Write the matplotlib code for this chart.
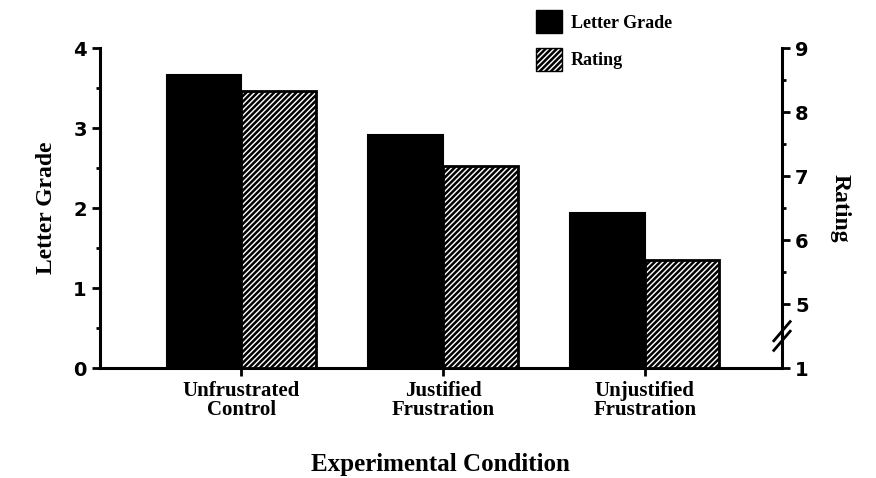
import matplotlib
matplotlib.use("Agg")
import matplotlib.pyplot as plt
import numpy as np
from matplotlib.patches import Patch

categories = ["Unfrustrated\nControl", "Justified\nFrustration", "Unjustified\nFrustration"]
letter_grade = [3.66, 2.91, 1.94]
rating = [8.33, 7.16, 5.69]
rating_axis_floor = 4  # the broken right axis starts here (labelled "1")
left_ticks = [0, 1, 2, 3, 4]
right_ticks = [4, 5, 6, 7, 8, 9]
right_tick_labels = ["1", "5", "6", "7", "8", "9"]

plt.rcParams['font.family'] = ['Liberation Serif', 'DejaVu Serif']
plt.rcParams['font.weight'] = 'bold'
plt.rcParams['hatch.linewidth'] = 1.8

fig = plt.figure(figsize=(8.76, 4.78), dpi=100)
ax = fig.add_axes([100/876, 1-368/478, 682/876, 320/478])
ax2 = ax.twinx()

x = np.arange(len(categories))
w = 0.37
ax.bar(x - w/2, letter_grade, width=w, color='black', edgecolor='black', linewidth=1.5, zorder=3)
ax2.bar(x + w/2, [r - rating_axis_floor for r in rating], width=w, bottom=rating_axis_floor,
        color='white', edgecolor='black', hatch='//////', linewidth=2, zorder=3)

ax.set_xlim(-0.70, 2.68)
ax.set_ylim(0, 4)
ax2.set_ylim(rating_axis_floor, 9)

ax.set_xticks(x)
ax.set_xticklabels(categories, fontsize=15, fontweight='bold', linespacing=0.95)
ax.set_yticks(left_ticks)
ax.set_yticklabels([str(t) for t in left_ticks], fontsize=14, fontweight='bold',
                   family='DejaVu Sans')
ax.set_yticks([0.5, 1.5, 2.5, 3.5], minor=True)
ax2.set_yticks(right_ticks)
ax2.set_yticklabels(right_tick_labels, fontsize=14, fontweight='bold', family='DejaVu Sans')
ax2.set_yticks([5.5, 6.5, 7.5, 8.5], minor=True)

for a in (ax, ax2):
    a.tick_params(axis='both', which='major', width=2, length=6, direction='out')
    a.tick_params(axis='y', which='minor', width=2, length=3, direction='out')
    for s in a.spines.values():
        s.set_linewidth(2.2)
    a.spines['top'].set_visible(False)
ax.spines['right'].set_visible(False)
ax2.spines['left'].set_visible(False)
ax2.spines['bottom'].set_visible(False)

ax.set_ylabel("Letter Grade", fontsize=17, fontweight='bold', labelpad=12)
ax2.set_ylabel("Rating", fontsize=17, fontweight='bold', rotation=-90, labelpad=30)
fig.text(440/876, 1 - 464/478, "Experimental Condition", fontsize=18, fontweight='bold',
         ha='center', va='center')

# axis break marks on right spine
d = 0.012
for yy in (0.085, 0.115):
    ax2.plot([1 - d, 1 + d], [yy - 0.03, yy + 0.03], transform=ax2.transAxes,
             color='black', lw=2, clip_on=False, zorder=5)

handles = [Patch(facecolor='black', edgecolor='black', label='Letter Grade'),
           Patch(facecolor='white', edgecolor='black', hatch='//////', label='Rating')]
fig.legend(handles=handles, loc='upper left', bbox_to_anchor=(531/876, 0.99),
           frameon=False, handlelength=1.4, handleheight=1.6, borderpad=0.3,
           borderaxespad=0.0, handletextpad=0.5, labelspacing=0.8,
           prop={'weight': 'bold', 'size': 13})

fig.savefig("out.png", dpi=100)
